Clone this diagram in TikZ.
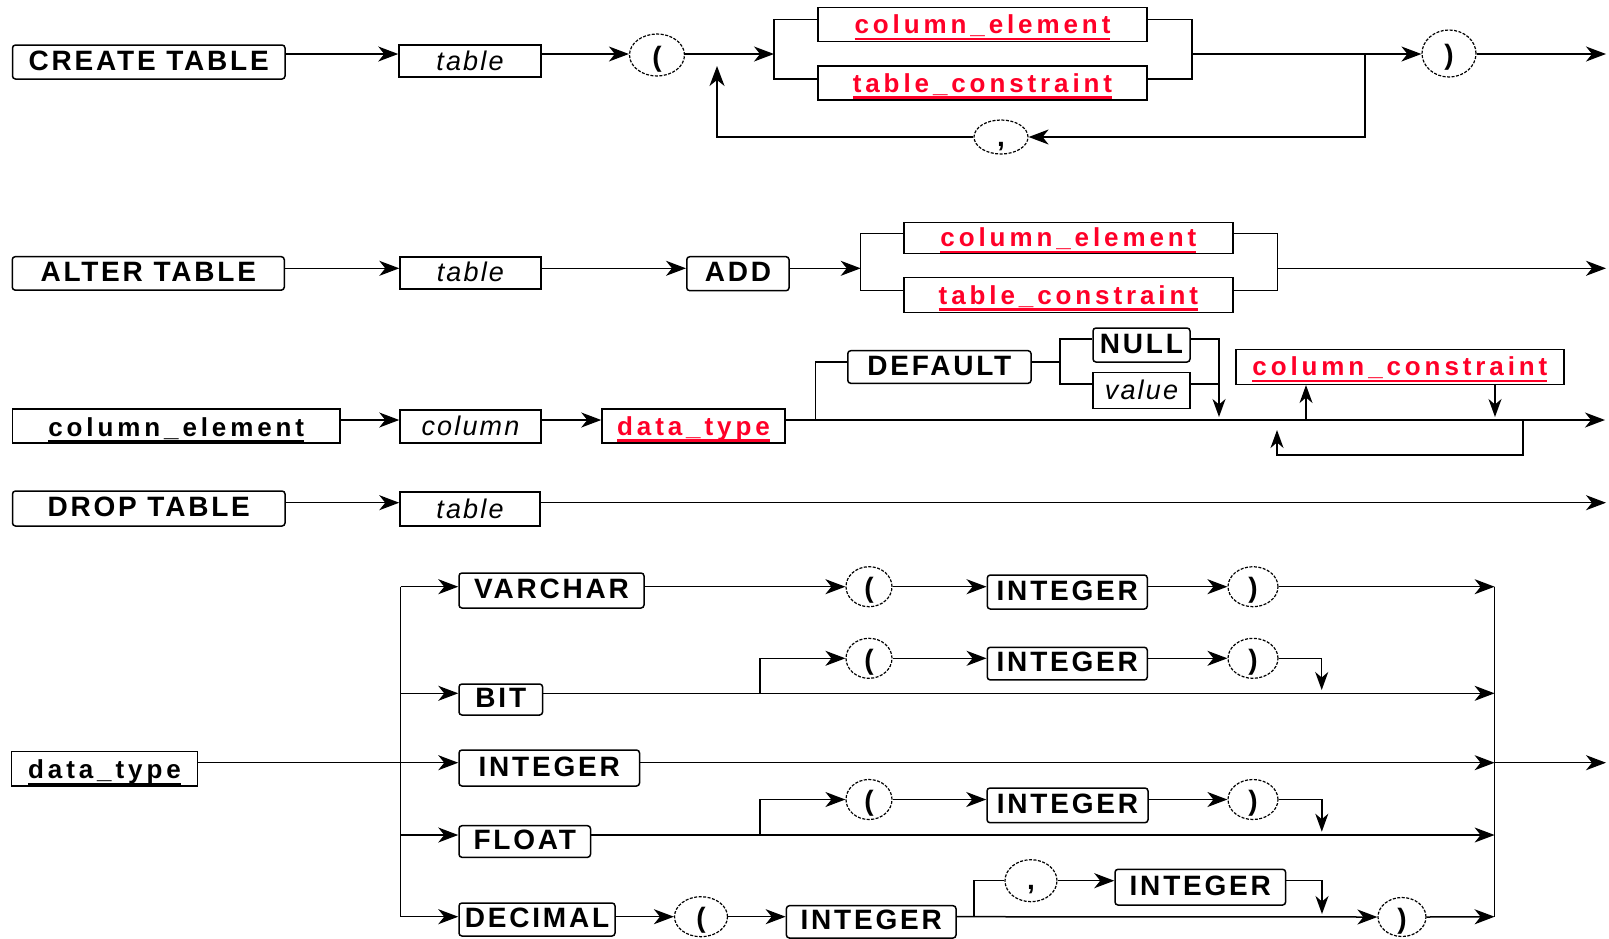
\documentclass[tikz,border=0pt]{standalone}
\usepackage{fontspec}
\usetikzlibrary{arrows.meta,shapes.geometric}
\newfontfamily\kwfam[LetterSpace=10]{Liberation Sans}
\newfontfamily\ntfam[LetterSpace=15]{Liberation Sans}
\newfontfamily\itfam[LetterSpace=8]{Liberation Sans}
\definecolor{ntred}{RGB}{255,0,40}
\newcommand\ulx[1]{\setbox0\hbox{#1}\rlap{\rule[-6.5pt]{\wd0}{2.5pt}}\box0}
\newcommand\tokp[1]{\raisebox{-11pt}[0pt][0pt]{#1}}
\newcommand\tokc[1]{\raisebox{-9pt}[0pt][0pt]{#1}}
\tikzset{
  ln/.style={line width=1.5pt},
  arr/.style={ln, -{Stealth[length=20pt,width=15pt,inset=6pt]}},
  sarr/.style={ln, -{Stealth[length=18pt,width=13pt,inset=5.5pt]}},
  sz/.style 2 args={minimum width=#1pt, minimum height=#2pt},
  kw/.style={draw, line width=1.5pt, inner sep=0pt, rounded corners=3pt,
    font=\kwfam\bfseries\fontsize{28}{30}\selectfont, text height=18pt, text depth=2pt},
  var/.style={draw, line width=1.5pt, inner sep=0pt,
    font=\itfam\itshape\fontsize{27}{30}\selectfont, text height=20pt, text depth=2pt},
  nt/.style={draw, line width=1.5pt, inner sep=0pt,
    font=\ntfam\bfseries\fontsize{26}{30}\selectfont, text=ntred, text height=21pt, text depth=3pt},
  hd/.style={nt, text=black, text height=22pt, text depth=2pt},
  tok/.style={draw, ellipse, line width=1.2pt, dash pattern=on 3pt off 1.5pt, inner sep=0pt,
    font=\kwfam\bfseries\fontsize{28}{30}\selectfont},
}
\begin{document}
\begin{tikzpicture}[x=1pt,y=-1pt]
\useasboundingbox (0,0) rectangle (1609,938);
% ---------- Row 1: CREATE TABLE
\coordinate (y1) at (0,54);
\coordinate (yb1a) at (0,19.3);
\coordinate (yb1b) at (0,79);
\node[kw, sz={272.5}{34}] (ct) at (148.75,62) {CREATE TABLE};
\node[var, sz={142}{32}] (t1) at (470,61) {table};
\node[tok, sz={55}{42}] (lp1) at (657,55) {\tokp{(}};
\coordinate (s1) at (774,54);
\node[nt, sz={329}{34.4}] (ce1) at (982.5,24.5) {\ulx{column\_element}};
\node[nt, sz={329}{34.3}] (tc1) at (982.5,83) {\ulx{table\_constraint}};
\coordinate (m1) at (1192,54);
\coordinate (l1) at (1365,54);
\node[tok, sz={54}{47}] (rp1) at (1449,53.5) {\tokp{)}};
\coordinate (e1) at (1606,54);
\node[tok, sz={54}{34}] (cm1) at (1001,137) {\tokc{,}};
\coordinate (u1) at (717,66);
\draw[arr] (ct.east |- y1) -- (t1.west |- y1);
\draw[arr] (t1.east |- y1) -- (lp1.west |- y1);
\draw[arr] (lp1.east |- y1) -- (s1);
\draw[ln] (ce1.west |- yb1a) -| (s1) |- (tc1.west |- yb1b);
\draw[ln] (ce1.east |- yb1a) -| (m1) |- (tc1.east |- yb1b);
\draw[arr] (m1) -- (rp1.west |- y1);
\draw[arr] (rp1.east |- y1) -- (e1);
\draw[arr] (l1) |- (cm1.east);
\draw[arr] (cm1.west) -| (u1);
% ---------- Row 2: ALTER TABLE
\coordinate (y2) at (0,268.3);
\coordinate (yb2a) at (0,233.3);
\coordinate (yb2b) at (0,290.7);
\node[kw, sz={272}{33.5}] (alt) at (148.25,273.4) {ALTER TABLE};
\node[var, sz={140.7}{32.3}] (t2) at (470.4,272.9) {table};
\node[kw, sz={102.3}{34}] (add) at (737.9,273.7) {ADD};
\coordinate (s2) at (860.7,268.3);
\node[nt, sz={328.7}{31}] (ce2) at (1068.4,237.8) {\ulx{column\_element}};
\node[nt, sz={328.7}{35.4}] (tc2) at (1068.4,295) {\ulx{table\_constraint}};
\coordinate (m2) at (1277.3,268.3);
\coordinate (e2) at (1606,268.3);
\draw[arr] (alt.east |- y2) -- (t2.west |- y2);
\draw[arr] (t2.east |- y2) -- (add.west |- y2);
\draw[arr] (add.east |- y2) -- (s2);
\draw[ln] (ce2.west |- yb2a) -| (s2) |- (tc2.west |- yb2b);
\draw[ln] (ce2.east |- yb2a) -| (m2) |- (tc2.east |- yb2b);
\draw[arr] (m2) -- (e2);
% ---------- Row 3: column_element
\coordinate (y3) at (0,420);
\coordinate (yd) at (0,362);
\coordinate (yn) at (0,339);
\coordinate (yv) at (0,384);
\node[hd, sz={327.5}{34}] (ceh) at (176.25,426) {\ulx{column\_element}};
\node[var, sz={141}{33}] (col) at (470.5,426.5) {column};
\node[nt, sz={183}{34}] (dt3) at (693.5,426) {\ulx{data\_type}};
\coordinate (d3) at (815.4,420);
\node[kw, sz={183.3}{32.6}] (def) at (939.4,367) {DEFAULT};
\coordinate (s3) at (1060,362);
\node[kw, sz={97}{34}] (null) at (1141.5,345) {NULL};
\node[var, sz={97}{35.6}] (val) at (1141.5,390.5) {value};
\coordinate (m3t) at (1219,417);
\node[nt, sz={327.7}{35}] (cc) at (1399.9,366.8) {\ulx{column\_constraint}};
\coordinate (ua) at (1306,420);
\coordinate (da) at (1495,417);
\coordinate (lb) at (1523,420);
\coordinate (lbb) at (1277,455);
\coordinate (lt) at (1277,430);
\coordinate (e3) at (1605,420);
\draw[arr] (ceh.east |- y3) -- (col.west |- y3);
\draw[arr] (col.east |- y3) -- (dt3.west |- y3);
\draw[arr] (dt3.east |- y3) -- (e3);
\draw[ln] (d3) |- (def.west |- yd);
\draw[ln] (def.east |- yd) -- (s3);
\draw[ln] (null.west |- yn) -| (s3) |- (val.west |- yv);
\draw[sarr] (null.east |- yn) -| (m3t);
\draw[ln] (val.east |- yv) -- (m3t |- yv);
\draw[sarr] (ua) -- (cc.south -| ua);
\draw[sarr] (cc.south -| da) -- (da);
\draw[sarr] (lb) |- (lbb) -- (lt);
% ---------- Row 4: DROP TABLE
\coordinate (y4) at (0,502.7);
\node[kw, sz={272.5}{35}] (drp) at (148.75,508.5) {DROP TABLE};
\node[var, sz={140}{34}] (t4) at (470,509) {table};
\coordinate (e4) at (1606,502.7);
\draw[arr] (drp.east |- y4) -- (t4.west |- y4);
\draw[arr] (t4.east |- y4) -- (e4);
% ---------- Row 5: data_type
\coordinate (yB) at (0,693.3);
\coordinate (yI) at (0,762.7);
\coordinate (yF) at (0,835);
\coordinate (vt) at (400.5,586.7);
\coordinate (vb) at (400.5,916.7);
\coordinate (mt) at (1494.6,586.7);
\coordinate (mb) at (1494.6,916.7);
\node[hd, sz={185.6}{34.3}] (dth) at (104.5,768.85) {\ulx{data\_type}};
\node[kw, sz={185}{35}] (vch) at (551.5,590.5) {VARCHAR};
\node[kw, sz={83.6}{31}] (bit) at (500.8,699.5) {BIT};
\node[kw, sz={180.5}{36}] (int) at (549.25,768) {INTEGER};
\node[kw, sz={131.5}{31.6}] (flt) at (524.75,841.5) {FLOAT};
\node[kw, sz={156}{33}] (dec) at (537,919.5) {DECIMAL};
% VARCHAR branch
\node[tok, sz={46}{40}] (vp) at (869,586.7) {\tokp{(}};
\node[kw, sz={160}{34}] (vi) at (1067.3,592) {INTEGER};
\node[tok, sz={50}{40}] (vr) at (1253,586.7) {\tokp{)}};
% BIT branch
\coordinate (bj) at (760,693.3);
\node[tok, sz={46}{40}] (bp) at (869,658.3) {\tokp{(}};
\node[kw, sz={160}{32.7}] (bi) at (1067.3,663.6) {INTEGER};
\node[tok, sz={50}{40}] (br) at (1253,658.3) {\tokp{)}};
\coordinate (bd) at (1321.7,690);
% FLOAT branch
\coordinate (fj) at (760,835);
\node[tok, sz={46}{40}] (fp) at (869,799.5) {\tokp{(}};
\node[kw, sz={161}{34.7}] (fi) at (1067.5,805.35) {INTEGER};
\node[tok, sz={50}{40}] (fr) at (1253,799.5) {\tokp{)}};
\coordinate (fd) at (1321.8,831.7);
% DECIMAL branch
\node[tok, sz={53}{40}] (dp) at (701,916.7) {\tokp{(}};
\node[kw, sz={169.6}{32.3}] (di) at (871.2,921.85) {INTEGER};
\coordinate (dj) at (974,916.7);
\node[tok, sz={52}{42}] (dc) at (1031,880.7) {\tokc{,}};
\node[kw, sz={170.6}{35.7}] (di2) at (1200.3,887.15) {INTEGER};
\coordinate (dd) at (1322,914);
\node[tok, sz={48}{39}] (dr2) at (1402,917) {\tokp{)}};
\coordinate (e5) at (1606,762.7);
% connectors
\draw[arr] (dth.east |- yI) -- (int.west |- yI);
\draw[ln] (vt) -- (vb);
\draw[arr] (vt) -- (vch.west |- vt);
\draw[arr] (vt |- yB) -- (bit.west |- yB);
\draw[arr] (vt |- yF) -- (flt.west |- yF);
\draw[arr] (vb) -- (dec.west |- vb);
\draw[arr] (vch.east |- vt) -- (vp.west);
\draw[arr] (vp.east) -- (vi.west |- vp);
\draw[arr] (vi.east |- vp) -- (vr.west);
\draw[arr] (vr.east) -- (mt);
\draw[arr] (bit.east |- yB) -- (mt |- yB);
\draw[arr] (bj) |- (bp.west);
\draw[arr] (bp.east) -- (bi.west |- bp);
\draw[arr] (bi.east |- bp) -- (br.west);
\draw[sarr] (br.east) -| (bd);
\draw[arr] (int.east |- yI) -- (mt |- yI);
\draw[arr] (mt |- yI) -- (e5);
\draw[arr] (flt.east |- yF) -- (mt |- yF);
\draw[arr] (fj) |- (fp.west);
\draw[arr] (fp.east) -- (fi.west |- fp);
\draw[arr] (fi.east |- fp) -- (fr.west);
\draw[sarr] (fr.east) -| (fd);
\draw[arr] (dec.east |- vb) -- (dp.west);
\draw[arr] (dp.east) -- (di.west |- vb);
\draw[arr] (di.east |- vb) -- (dr2.west);
\draw[ln] (dj) |- (dc.west);
\draw[arr] (dc.east) -- (di2.west |- dc);
\draw[sarr] (di2.east |- dc) -| (dd);
\draw[arr] (dr2.east) -- (mb);
\draw[ln] (mt) -- (mb);
\end{tikzpicture}
\end{document}
